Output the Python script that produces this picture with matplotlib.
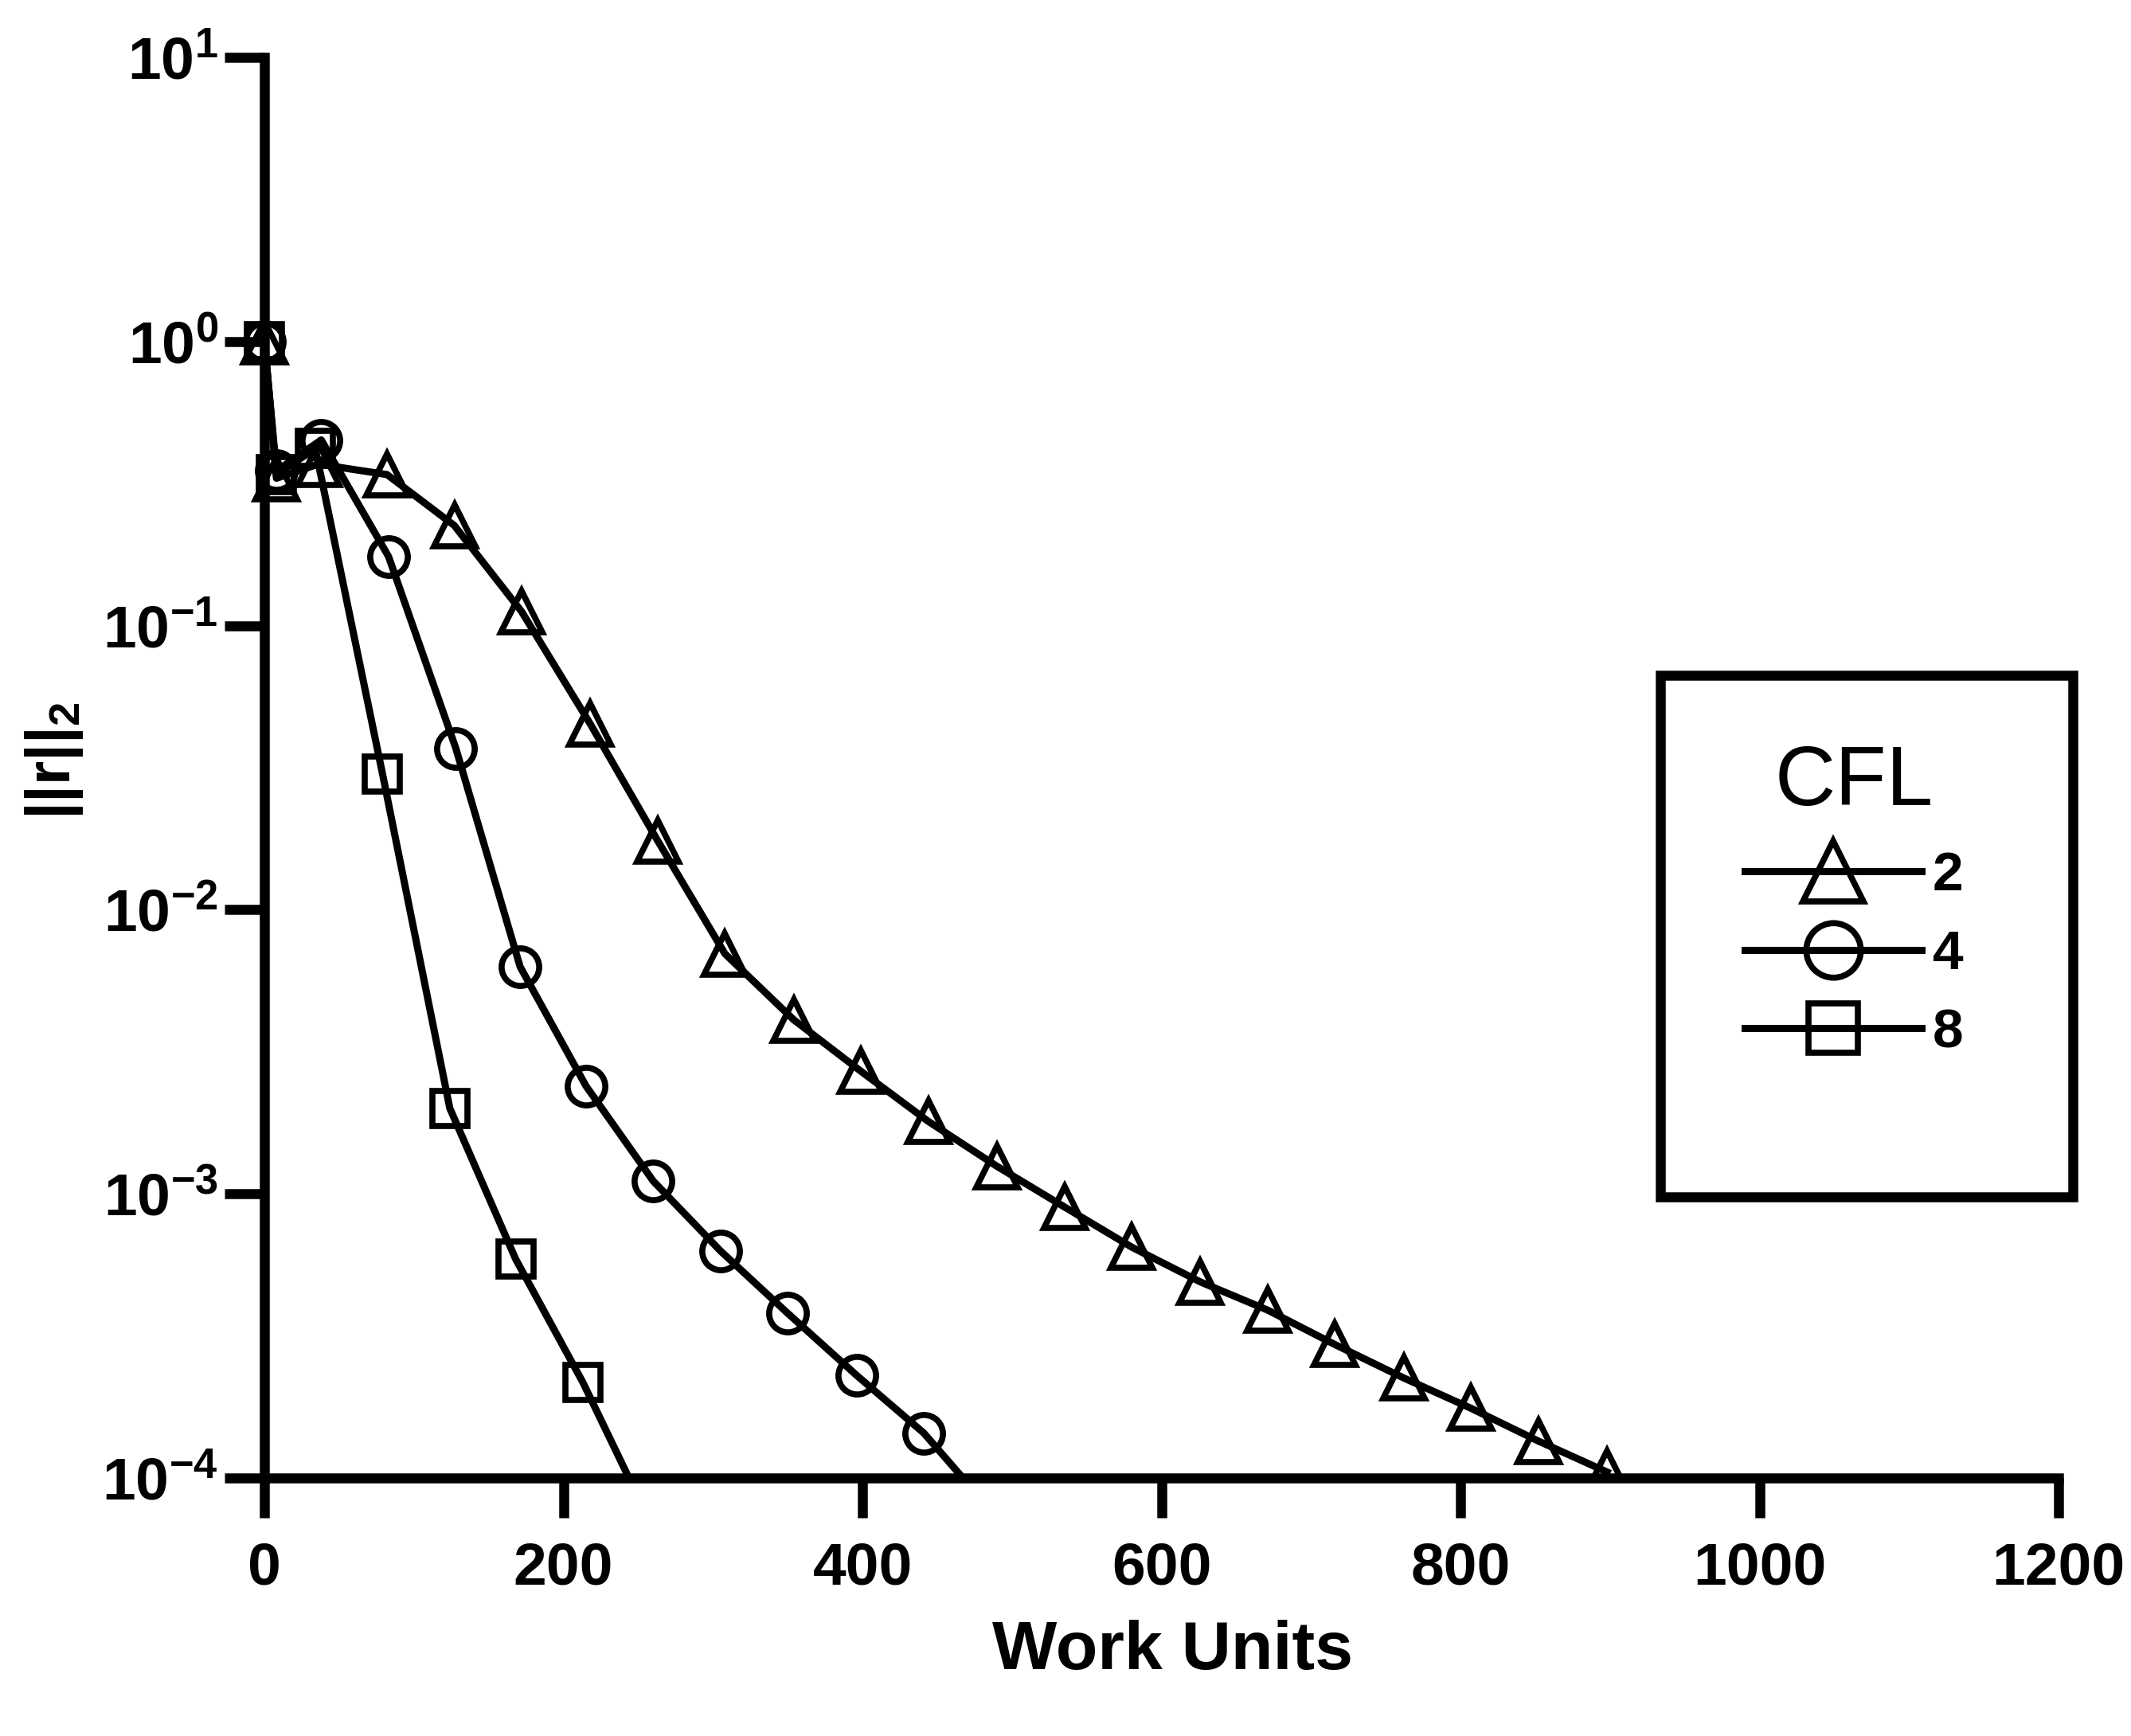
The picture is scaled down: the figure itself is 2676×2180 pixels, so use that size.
import matplotlib
matplotlib.use("Agg")
import matplotlib.pyplot as plt
import matplotlib.patches as mpatches
from matplotlib.ticker import FixedLocator, FuncFormatter, NullLocator
import numpy as np

# residual norm vs. work units for three CFL numbers
cfl_labels = ["2", "4", "8"]

work_cfl2 = [0, 8, 36, 82, 127, 172, 218, 263, 308, 354, 399, 444,
             490, 535, 580, 626, 671, 716, 762, 807, 852, 898]
res_cfl2 = [1.0, 0.33, 0.37, 0.34, 0.225, 0.112, 0.045, 0.0175, 0.0070,
            0.0041, 0.0027, 0.0018, 0.00125, 0.0009, 0.00065, 0.00049,
            0.00039, 0.000295, 0.000225, 0.000176, 0.000135, 0.000105]

work_cfl4 = [0, 8, 38, 83, 128, 171, 215, 260, 305, 350, 396, 441, 486]
res_cfl4 = [1.0, 0.35, 0.45, 0.175, 0.037, 0.0063, 0.0024, 0.00111,
            0.00063, 0.00038, 0.00023, 0.000144, 7.7e-5]

work_cfl8 = [0, 8, 34, 79, 124, 168, 213, 258]
res_cfl8 = [1.0, 0.34, 0.42, 0.030, 0.0020, 0.00059, 0.000217, 7.0e-5]

x_ticks = [0, 200, 400, 600, 800, 1000, 1200]
y_ticks = [1e-4, 1e-3, 1e-2, 1e-1, 1e0, 1e1]

plt.rcParams["font.family"] = "Liberation Sans"
plt.rcParams["font.weight"] = "bold"
plt.rcParams["mathtext.fontset"] = "custom"
plt.rcParams["mathtext.rm"] = "Liberation Sans:bold"
plt.rcParams["mathtext.it"] = "Liberation Sans:bold"
plt.rcParams["mathtext.bf"] = "Liberation Sans:bold"
plt.rcParams["mathtext.default"] = "rm"

fig = plt.figure(figsize=(26.76, 21.80), dpi=100)
ax = fig.add_axes([0.1241, 0.1486, 0.8419, 0.8184])

# markers at x=0 sit on the spine, so clip only at the bottom of the axes
clip_box = mpatches.Rectangle((-0.04, 0.0), 1.08, 1.04, transform=ax.transAxes)

series = [
    (work_cfl2, res_cfl2, "^", 38),
    (work_cfl4, res_cfl4, "o", 34),
    (work_cfl8, res_cfl8, "s", 31),
]
handles = []
for (x, y, m, ms), lab in zip(series, cfl_labels):
    line, = ax.plot(x, y, color="black", lw=6.5, marker=m, ms=ms,
                    mfc="none", mec="black", mew=5.5, label=lab)
    line.set_clip_path(clip_box)
    handles.append(line)

ax.set_yscale("log")
ax.set_xlim(0, 1200)
ax.set_ylim(1e-4, 10)
ax.xaxis.set_major_locator(FixedLocator(x_ticks))
ax.yaxis.set_major_locator(FixedLocator(y_ticks))
ax.yaxis.set_minor_locator(NullLocator())
ax.yaxis.set_major_formatter(
    FuncFormatter(lambda v, p: rf"$10^{{{int(round(np.log10(v)))}}}$"))

for s in ["top", "right"]:
    ax.spines[s].set_visible(False)
for s in ["left", "bottom"]:
    ax.spines[s].set_linewidth(9)
ax.tick_params(direction="out", length=36, width=9, labelsize=54)
ax.tick_params(axis="x", pad=21)
ax.tick_params(axis="y", pad=6)

ax.set_xlabel("Work Units", fontsize=62, fontweight="bold")
ax.xaxis.set_label_coords(0.506, -0.1)
ax.set_ylabel(r"$||r||_2$", fontsize=56)
ax.yaxis.set_label_coords(-0.1, 0.505)

leg = ax.legend(handles=handles, title="CFL", loc="upper center",
                bbox_to_anchor=(0.886, 0.536), frameon=False,
                prop={"weight": "bold", "size": 50},
                title_fontproperties={"weight": "normal", "size": 76},
                markerscale=1.45, handlelength=3.2, handletextpad=0.2,
                labelspacing=0.5, borderpad=0)
ax.add_patch(mpatches.Rectangle((0.778, 0.198), 0.230, 0.367,
                                transform=ax.transAxes, fill=False, lw=9,
                                ec="black", clip_on=False, zorder=5))

fig.savefig("out.png", dpi=100)
